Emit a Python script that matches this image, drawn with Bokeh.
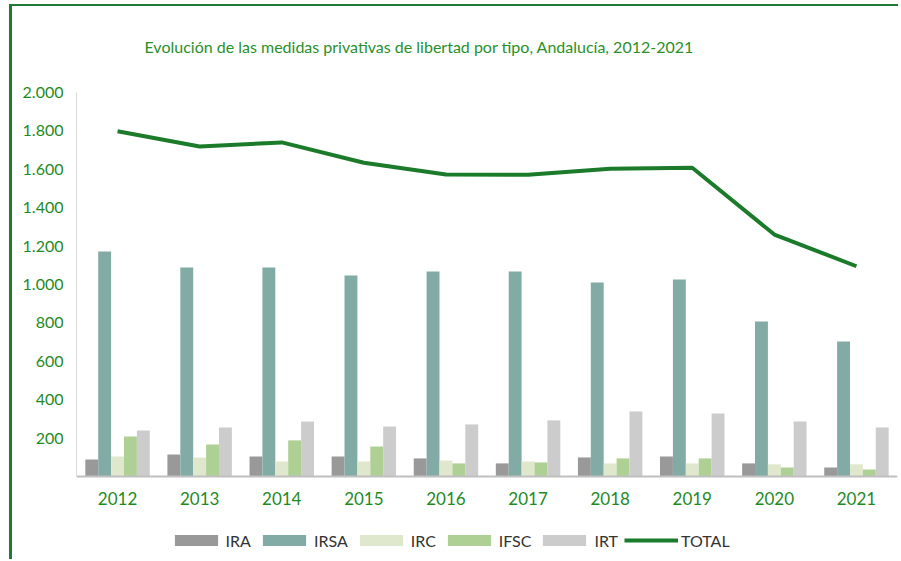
from bokeh.plotting import figure
from bokeh.models import (FactorRange, FixedTicker, Legend, LegendItem, Label,
                          ColumnDataSource)
from bokeh.transform import dodge
from bokeh.embed import file_html
from bokeh.resources import INLINE

years = ["2012", "2013", "2014", "2015", "2016", "2017", "2018", "2019", "2020", "2021"]
IRA = [88, 115, 104, 104, 94, 68, 99, 104, 68, 47]
IRSA = [1172, 1089, 1089, 1047, 1068, 1068, 1010, 1026, 807, 703]
IRC = [104, 99, 78, 78, 83, 78, 68, 68, 63, 63]
IFSC = [208, 167, 188, 156, 68, 73, 94, 94, 47, 36]
IRT = [240, 255, 286, 260, 271, 292, 339, 328, 286, 255]
TOTAL = [1798, 1719, 1740, 1634, 1573, 1571, 1603, 1608, 1260, 1095]

y_ticks = [200, 400, 600, 800, 1000, 1200, 1400, 1600, 1800, 2000]
y_tick_labels = ["200", "400", "600", "800", "1.000", "1.200", "1.400", "1.600", "1.800", "2.000"]

title_text = "Evolución de las medidas privativas de libertad por tipo, Andalucía, 2012-2021"

series_names = ["IRA", "IRSA", "IRC", "IFSC", "IRT"]
series_colors = ["#999999", "#82aba5", "#dfe8cc", "#afd095", "#cccccc"]
line_color = "#1b7b2b"
green_text = "#1f8a1f"
font = "Lato"

src = ColumnDataSource(dict(year=years, IRA=IRA, IRSA=IRSA, IRC=IRC, IFSC=IFSC, IRT=IRT, TOTAL=TOTAL))

# frame spans the whole canvas height; 0..2000 sits at pixel rows 476..92
p = figure(width=889, height=555, x_range=FactorRange(factors=years), y_range=(-443, 2448),
           output_backend="svg", toolbar_location=None,
           min_border_left=64, min_border_right=4, min_border_top=0, min_border_bottom=0)
p.outline_line_color = None
p.xgrid.grid_line_color = None
p.ygrid.grid_line_color = None
p.background_fill_color = "white"
p.border_fill_color = "white"
p.styles = {"border-left": "3px solid #1e7b34", "margin-left": "9px",
            "border-top": "2px solid #1e7b34", "margin-top": "4px"}

bw = 0.157
renderers = []
for i, (name, col) in enumerate(zip(series_names, series_colors)):
    r = p.vbar(x=dodge("year", (i - 2) * bw, range=p.x_range), top=name, width=bw,
               source=src, fill_color=col, line_color=None)
    renderers.append(r)

lr = p.line(x="year", y="TOTAL", source=src, line_color=line_color, line_width=4)
renderers.append(lr)

# axes
p.yaxis.ticker = FixedTicker(ticks=y_ticks)
p.yaxis.bounds = (0, 2000)
p.yaxis.major_label_overrides = {t: l for t, l in zip(y_ticks, y_tick_labels)}
p.yaxis.major_tick_line_color = None
p.yaxis.minor_tick_line_color = None
p.yaxis.axis_line_color = "#d9d9d9"
p.yaxis.major_label_text_color = green_text
p.yaxis.major_label_text_font = font
p.yaxis.major_label_text_font_size = "16px"
p.yaxis.major_label_standoff = 7

p.xaxis.fixed_location = 0
p.xaxis.major_tick_line_color = None
p.xaxis.minor_tick_line_color = None
p.xaxis.axis_line_color = "#bfbfbf"
p.xaxis.axis_line_width = 2
p.xaxis.major_label_text_color = green_text
p.xaxis.major_label_text_font = font
p.xaxis.major_label_text_font_size = "17px"
p.xaxis.major_label_standoff = 10

# title
p.add_layout(Label(x=0.828, y=2240, text=title_text, text_font=font,
                   text_font_size="16px", text_color="#2a8f2a",
                   text_baseline="middle", text_align="left"))

legend = Legend(items=[LegendItem(label=n, renderers=[r]) for n, r in zip(series_names + ["TOTAL"], renderers)],
                orientation="horizontal", location=(92.6, 11.5),
                glyph_width=54, glyph_height=14, label_standoff=3, spacing=6,
                padding=0, margin=0, border_line_color=None, background_fill_alpha=0,
                label_text_font=font, label_text_font_size="16px", label_text_color="#333333")
p.add_layout(legend, "center")

open("out.html", "w").write(file_html(p, INLINE))
